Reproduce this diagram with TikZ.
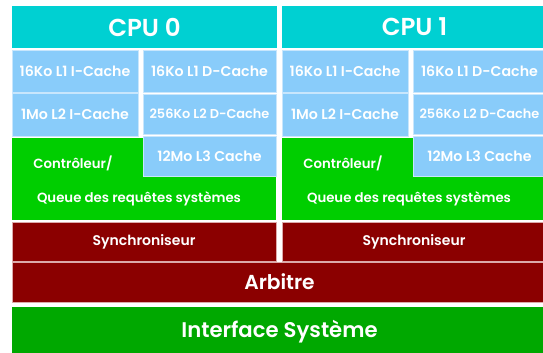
\documentclass[tikz,border=0pt]{standalone}
\usepackage{fontspec}
\setmainfont{Poppins}[BoldFont={Poppins SemiBold}]
\definecolor{cpucyan}{RGB}{0,208,210}
\definecolor{cacheblue}{RGB}{137,204,250}
\definecolor{cacheedge}{RGB}{200,230,252}
\definecolor{ctrlgreen}{RGB}{0,206,0}
\definecolor{syncred}{RGB}{139,0,0}
\definecolor{syncedge}{RGB}{220,170,170}
\definecolor{ifgreen}{RGB}{0,168,0}
\begin{document}
\begin{tikzpicture}[x=1pt, y=-1pt,
  blk/.style={rectangle, anchor=north west, inner sep=0pt, outer sep=0pt, text=white},
  cpubox/.style={blk, fill=cpucyan, font=\fontsize{24.5}{24.5}\selectfont\bfseries},
  cachebox/.style={blk, fill=cacheblue, draw=cacheedge, line width=0.6pt, font=\fontsize{14.2}{14.2}\selectfont\bfseries},
  ctrlbox/.style={blk, fill=ctrlgreen},
  syncbox/.style={blk, fill=syncred, draw=syncedge, line width=0.6pt, font=\fontsize{14}{14}\selectfont\bfseries},
  busbox/.style={blk, fill=syncred, draw=syncedge, line width=0.6pt, font=\fontsize{20.2}{20.2}\selectfont\bfseries},
  ifbox/.style={blk, fill=ifgreen, font=\fontsize{21.2}{21.2}\selectfont\bfseries},
  lbl/.style={inner sep=0pt, text=white, font=\fontsize{13.3}{13.3}\selectfont\bfseries}]
\useasboundingbox (0,0) rectangle (543,353);
\clip (0,0) rectangle (543,353);

% one column per processor
\foreach \n/\dx in {0/0, 1/270} {
% processor header
\node[cpubox, minimum width=265pt, minimum height=42pt] (cpu\n) at (12+\dx,6) {CPU \n};
% first and second level caches
\node[cachebox, minimum width=126pt, minimum height=42pt] (lonei\n) at (12+\dx,50) {16Ko L1 I-Cache};
\node[cachebox, minimum width=133pt, minimum height=42pt] (loned\n) at (143+\dx,50) {16Ko L1 D-Cache};
\node[cachebox, minimum width=126pt, minimum height=43pt] (ltwoi\n) at (12+\dx,93) {1Mo L2 I-Cache};
\node[cachebox, minimum width=133pt, minimum height=40pt, font=\fontsize{12.9}{12.9}\selectfont\bfseries] (ltwod\n) at (143+\dx,94) {256Ko L2 D-Cache};
% controller, with the third level cache on top of it
\node[ctrlbox, minimum width=264pt, minimum height=82pt] (ctrl\n) at (12+\dx,138) {};
\node[cachebox, minimum width=133pt, minimum height=40pt] (lthree\n) at (143+\dx,136) {12Mo L3 Cache};
\node[lbl] (ctrltxt\n) at (73+\dx,163) {Contrôleur/};
\node[lbl] (queue\n) at (139+\dx,199) {Queue des requêtes systèmes};
% synchroniser
\node[syncbox, minimum width=264pt, minimum height=39pt] (sync\n) at (12+\dx,222) {Synchroniseur};
}

% shared arbiter and system interface
\node[busbox, minimum width=535pt, minimum height=40pt] (arb) at (12,262) {Arbitre};
\node[ifbox, minimum width=535pt, minimum height=50pt] (sysif) at (12,307) {Interface Système};
\end{tikzpicture}
\end{document}
